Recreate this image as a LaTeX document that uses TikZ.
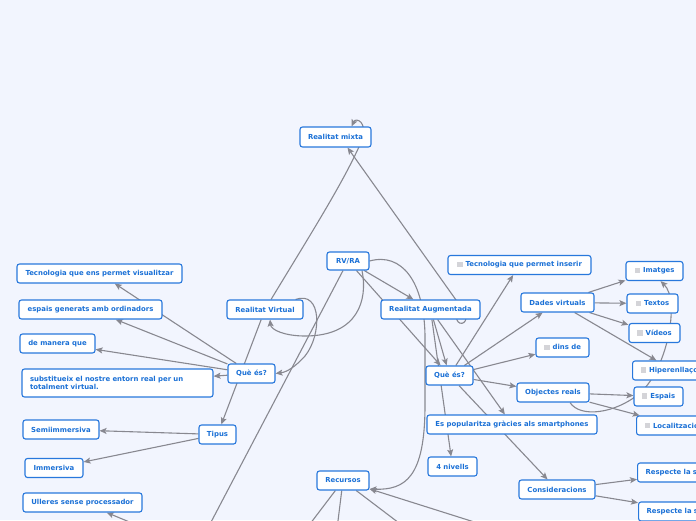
\documentclass[tikz,border=0pt]{standalone}
\usepackage{fontspec}
\setmainfont{DejaVu Sans}
\usetikzlibrary{arrows.meta,positioning,backgrounds}
\pgfdeclarelayer{canvas}
\pgfsetlayers{canvas,background,main}
\definecolor{paper}{RGB}{242,245,254}
\definecolor{topicblue}{RGB}{40,120,220}
\definecolor{inkblue}{RGB}{26,112,214}
\definecolor{linkgray}{RGB}{136,136,144}
\definecolor{chkgray}{RGB}{212,212,216}
\newcommand{\chkbox}{\textcolor{chkgray}{\rule[-0.4pt]{5.5pt}{5.5pt}}\hspace{3pt}}
\tikzset{topic/.style={draw=topicblue,fill=white,text=inkblue,rounded corners=2.5pt,line width=1.1pt,
   font=\bfseries\fontsize{6.9}{8.5}\selectfont,inner xsep=0pt,minimum height=19pt,align=center},
 leaf/.style={topic,inner xsep=8pt,anchor=west,align=left},
 link/.style={draw=linkgray,line width=1.1pt},
 arrow/.style={link,-{Stealth[length=7pt,width=6pt,inset=1.5pt]}}}

\begin{document}
\begin{tikzpicture}[x=1pt,y=-1pt]
\useasboundingbox (0,0) rectangle (696,520);
\begin{pgfonlayer}{canvas}
\fill[paper] (0,0) rectangle (696,520);
\end{pgfonlayer}

% centre
\node[topic,minimum width=42pt,minimum height=18pt] (rvra) at (348,261) {RV/RA};
\node[topic,minimum width=71pt,minimum height=20pt] (mixta) at (335.5,137) {Realitat mixta};
\node[topic,minimum width=76pt] (virtual) at (265,309.5) {Realitat Virtual};
\node[topic,minimum width=99pt] (augm) at (430.5,309.5) {Realitat Augmentada};
\node[topic,minimum width=52pt] (recursos) at (343,480.5) {Recursos};

% realitat virtual
\node[topic,minimum width=47pt] (queV) at (251.5,373.5) {Què és?};
\node[topic,minimum width=165pt] (visual) at (99.5,273.5) {Tecnologia que ens permet visualitzar};
\node[topic,minimum width=143pt] (espaisgen) at (90.5,309.5) {espais generats amb ordinadors};
\node[topic,minimum width=75pt] (manera) at (57.5,343.5) {de manera que};
\node[topic,minimum width=191pt,minimum height=28pt,align=left,text width=175pt] (substit) at (117.5,383)
{substitueix el nostre entorn real per un\\totalment virtual.};
\node[topic,minimum width=37pt] (tipus) at (217.5,434.5) {Tipus};
\node[topic,minimum width=76pt] (semi) at (61,429.5) {Semiimmersiva};
\node[topic,minimum width=58pt] (immers) at (54,468) {Immersiva};
\node[topic,minimum width=119pt] (ulleres) at (82.5,502.5) {Ulleres sense processador};

% realitat augmentada
\node[topic,minimum width=47pt] (queA) at (449.5,375.5) {Què és?};
\node[topic,minimum width=143pt] (inserir) at (519.5,265) {\chkbox Tecnologia que permet inserir};
\node[topic,minimum width=73pt] (dades) at (557.5,302.5) {Dades virtuals};
\node[topic,minimum width=57pt] (imatges) at (654.5,271) {\chkbox Imatges};
\node[topic,minimum width=51pt] (textos) at (652.5,303.5) {\chkbox Textos};
\node[topic,minimum width=51pt] (videos) at (654.5,333) {\chkbox Vídeos};
\node[leaf,text width=66pt] (hiper) at (632,370.5) {\chkbox Hiperenllaços};
\node[topic,minimum width=53pt] (dins) at (562.5,347.5) {\chkbox dins de};
\node[topic,minimum width=72pt] (objectes) at (553,392.5) {Objectes reals};
\node[topic,minimum width=49pt] (espais) at (658.5,396.5) {\chkbox Espais};
\node[leaf,text width=66pt] (local) at (636,425.5) {\chkbox Localització};
\node[topic,minimum width=170pt] (popular) at (512,424.5) {Es popularitza gràcies als smartphones};
\node[topic,minimum width=49pt] (nivells) at (452.5,466.5) {4 nivells};
\node[topic,minimum width=76pt] (consid) at (557,489.5) {Consideracions};
\node[leaf,text width=90pt] (resp1) at (637,472.5) {Respecte la s};
\node[leaf,text width=90pt] (resp2) at (638,511.5) {Respecte la s};

% ends below the page
\coordinate (lowleft) at (199,545);
\coordinate (lowulleres) at (185,545);
\coordinate (lowrec1) at (294,545);
\coordinate (lowrec2) at (335,545);
\coordinate (lowrec3) at (428,545);
\coordinate (lowrec4) at (547,545);

\begin{scope}[on background layer]
\draw[arrow] (rvra) -- (augm);
\draw[arrow] (rvra) -- (queA);
\draw[link] (rvra) -- (lowleft);
\draw[arrow] (rvra.east) .. controls (402,252) and (424,282) .. (425,335) -- (425,405)
  .. controls (425,478) and (405,490) .. (recursos.-18);
\draw[arrow] ([xshift=14pt]rvra.south) .. controls (368,300) and (358,336) .. (305,336)
  .. controls (285,336) and (271,330) .. ([xshift=5pt]virtual.south);
\draw[arrow] ([xshift=-8pt]virtual.north east) .. controls (322,290) and (322,335) .. (305,356)
  .. controls (295,367) and (287,372) .. (queV.east);
\draw[arrow] (virtual) .. controls (310,235) and (345,180) .. (362,140)
  .. controls (368,122) and (356,117) .. ([xshift=16pt]mixta.north);
\draw[arrow] ([xshift=-24pt,yshift=3pt]augm.south east) .. controls (456,326) and (468,326) .. (466,314)
  -- ([xshift=12pt]mixta.south);
\draw[arrow] (virtual) -- (tipus);
\draw[arrow] (queV) -- (visual);
\draw[arrow] (queV) -- (espaisgen);
\draw[arrow] (queV) -- (manera);
\draw[arrow] (queV) -- (substit);
\draw[arrow] (tipus) -- (semi);
\draw[arrow] (tipus) -- (immers);
\draw[arrow] (lowulleres) -- (ulleres);
\draw[arrow] (augm) -- (queA);
\draw[arrow] (augm) -- (popular);
\draw[arrow] (augm) -- (nivells);
\draw[arrow] (queA) -- (inserir);
\draw[arrow] (queA) -- (dades);
\draw[arrow] (queA) -- (dins);
\draw[arrow] (queA) -- (objectes);
\draw[arrow] (queA) -- (consid);
\draw[arrow] (dades) -- (imatges);
\draw[arrow] (dades) -- (textos);
\draw[arrow] (dades) -- (videos);
\draw[arrow] (dades) -- (hiper);
\draw[arrow] (objectes) -- (espais);
\draw[arrow] (objectes) -- (local);
\draw[arrow] ([xshift=17pt]objectes.south) .. controls (580,418) and (615,414) .. (640,393)
  .. controls (668,368) and (680,300) .. ([xshift=6pt]imatges.south);
\draw[arrow] (consid) -- (resp1);
\draw[arrow] (consid) -- (resp2);
\draw[link] (recursos) -- (lowrec1);
\draw[link] (recursos) -- (lowrec2);
\draw[link] (recursos) -- (lowrec3);
\draw[arrow] (lowrec4) -- (recursos);
\end{scope}
\end{tikzpicture}
\end{document}
